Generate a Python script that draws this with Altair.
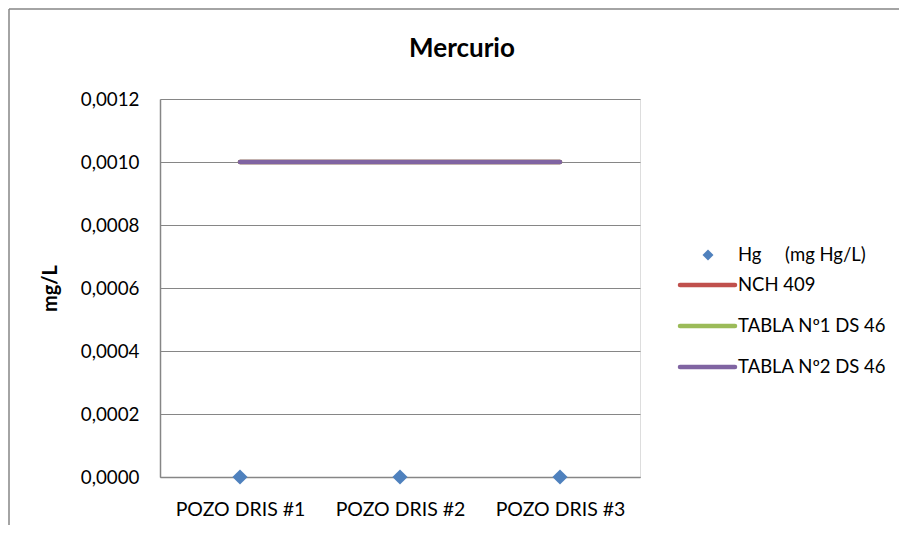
import altair as alt
import pandas as pd

# ---- data ----
categories = ["POZO DRIS #1", "POZO DRIS #2", "POZO DRIS #3"]
hg_values = [0.0, 0.0, 0.0]
nch409 = [0.001, 0.001, 0.001]
tabla1_ds46 = [0.001, 0.001, 0.001]
tabla2_ds46 = [0.001, 0.001, 0.001]

series_names = ["NCH 409", "TABLA Nº1 DS 46", "TABLA Nº2 DS 46"]
series_values = [nch409, tabla1_ds46, tabla2_ds46]
series_colors = ["#C0504D", "#9BBB59", "#8064A2"]
hg_label = "Hg\u00a0\u00a0\u00a0\u00a0\u00a0(mg Hg/L)"
hg_color = "#4F81BD"
chart_title = "Mercurio"
y_title = "mg/L"

y_ticks = [0.0, 0.0002, 0.0004, 0.0006, 0.0008, 0.0010, 0.0012]

FONT = "Lato"
W, H = 480, 378
PL, PT, PR, PB = 152, 91, 259, 48
GRAY = "#868686"

pts = pd.DataFrame({"cat": categories, "val": hg_values, "serie": hg_label})
lines = pd.DataFrame(
    [
        {"cat": c, "val": v, "serie": s, "order": i}
        for i, (s, vals) in enumerate(zip(series_names, series_values))
        for c, v in zip(categories, vals)
    ]
)

x_enc = alt.X(
    "cat:N",
    sort=categories,
    scale=alt.Scale(type="point", padding=0.5),
    axis=alt.Axis(
        title=None,
        domainColor=GRAY,
        domainWidth=1.5,
        ticks=False,
        grid=False,
        labelAngle=0,
        labelFont=FONT,
        labelFontSize=19.5,
        labelColor="#000000",
        labelPadding=23,
    ),
)
y_scale = alt.Scale(domain=[0, 0.0012], nice=False, zero=True)
y_axis = alt.Axis(
    values=y_ticks,
    title=y_title,
    titleFont=FONT,
    titleFontSize=20,
    titleFontWeight="bold",
    titleColor="#000000",
    titlePadding=20,
    labelExpr="replace(format(datum.value, '.4f'), '.', ',')",
    labelFont=FONT,
    labelFontSize=18.8,
    labelColor="#000000",
    labelPadding=21,
    ticks=False,
    domainColor=GRAY,
    domainWidth=1.5,
    grid=True,
    gridColor=GRAY,
    gridWidth=1.2,
)

line_layer = (
    alt.Chart(lines)
    .mark_line(strokeWidth=4.5, strokeCap="round")
    .encode(
        x=x_enc,
        y=alt.Y("val:Q", scale=y_scale, axis=y_axis),
        color=alt.Color(
            "serie:N",
            scale=alt.Scale(domain=series_names, range=series_colors),
            legend=None,
        ),
        detail="serie:N",
        order="order:Q",
    )
)

point_layer = (
    alt.Chart(pts)
    .mark_point(shape="diamond", filled=True, size=230, opacity=1, color=hg_color)
    .encode(x=alt.X("cat:N", sort=categories), y=alt.Y("val:Q"))
)

one = pd.DataFrame({"a": [0]})

# chart frame
frame_top = alt.Chart(one).mark_rule(color=GRAY, strokeWidth=1.5).encode(
    x=alt.value(-151), x2=alt.value(W + PR), y=alt.value(-90)
)
frame_left = alt.Chart(one).mark_rule(color=GRAY, strokeWidth=1.5).encode(
    x=alt.value(-151), y=alt.value(-90), y2=alt.value(H + PB)
)

# title
title_layer = (
    alt.Chart(one)
    .mark_text(align="center", baseline="alphabetic", font=FONT, fontSize=26,
               fontWeight="bold", color="#000000")
    .encode(x=alt.value(302), y=alt.value(-42), text=alt.value(chart_title))
)

# manual legend
LX_SYM, LX_L1, LX_L2, LX_TXT = 548, 520, 575, 578
LY0 = 156
LY_LINES = [186, 227, 268]
LFS = 18.5
legend_layers = [
    alt.Chart(one)
    .mark_point(shape="diamond", filled=True, size=120, opacity=1, color=hg_color)
    .encode(x=alt.value(LX_SYM), y=alt.value(LY0)),
    alt.Chart(one)
    .mark_text(align="left", baseline="middle", font=FONT, fontSize=LFS, color="#000000")
    .encode(x=alt.value(LX_TXT), y=alt.value(LY0), text=alt.value(hg_label)),
]
for name, col, yy in zip(series_names, series_colors, LY_LINES):
    legend_layers.append(
        alt.Chart(one)
        .mark_rule(color=col, strokeWidth=4.5, strokeCap="round")
        .encode(x=alt.value(LX_L1), x2=alt.value(LX_L2), y=alt.value(yy))
    )
    legend_layers.append(
        alt.Chart(one)
        .mark_text(align="left", baseline="middle", font=FONT, fontSize=LFS, color="#000000")
        .encode(x=alt.value(LX_TXT), y=alt.value(yy), text=alt.value(name))
    )

chart = (
    alt.layer(line_layer, point_layer, frame_top, frame_left, title_layer, *legend_layers)
    .properties(
        width=W,
        height=H,
        autosize=alt.AutoSizeParams(type="none"),
        padding={"left": PL, "top": PT, "right": PR, "bottom": PB},
    )
    .configure_view(stroke=None)
    .configure(background="white")
)

chart.save("out.html", embed_options={"renderer": "svg", "actions": False})
